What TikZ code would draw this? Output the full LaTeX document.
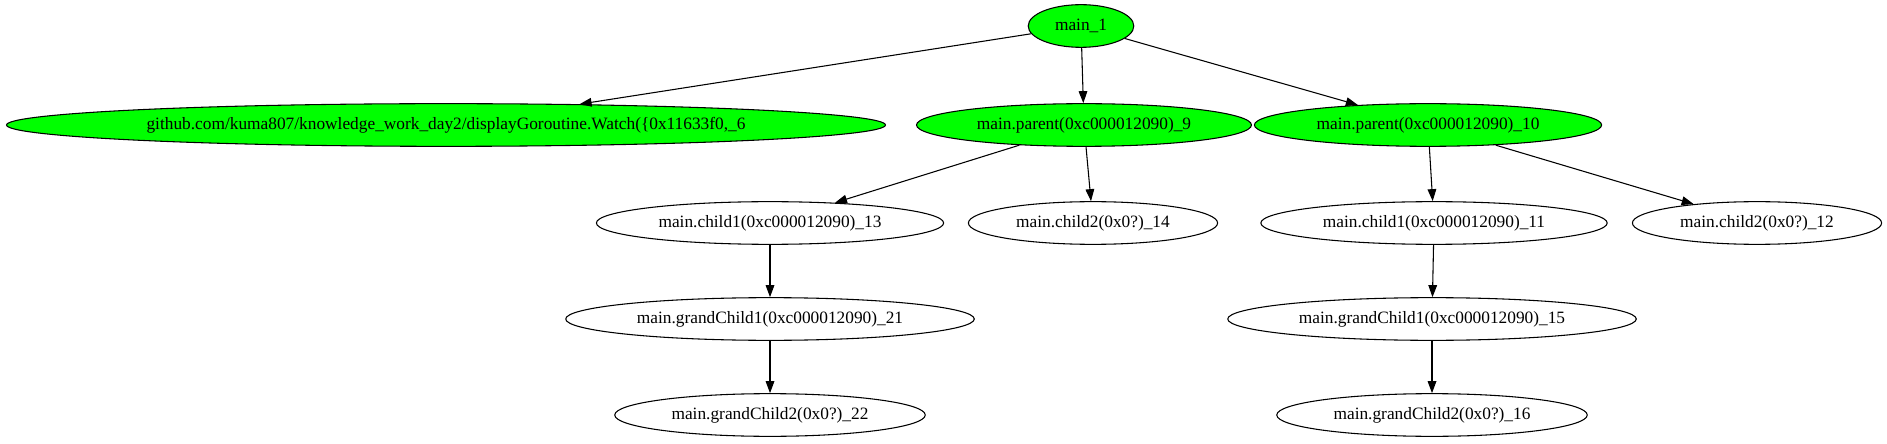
\documentclass[tikz,border=0pt]{standalone}
\usepackage{fontspec}
\setmainfont{Liberation Serif}
\usetikzlibrary{arrows.meta,shapes,positioning}
\definecolor{gvgreen}{RGB}{0,255,0}

\begin{document}
\begin{tikzpicture}[
		x=0.75pt, y=0.75pt,
		gnode/.style={ellipse, draw, line width=0.8pt, inner xsep=8.5pt, inner ysep=2pt, minimum height=32pt, font=\fontsize{13}{15}\selectfont},
		running/.style={gnode, fill=gvgreen},
		->, >={Triangle[length=9pt, width=6.5pt]}, line width=0.8pt
		]

		\useasboundingbox (0,0) rectangle (1887,443);

		% --- racine ---
		\node[running] (M1) at (1081, 417) {main\_1};

		% --- niveau 1 ---
		\node[running] (W6) at (446, 318) {github.com/kuma807/knowledge\_work\_day2/displayGoroutine.Watch(\{0x11633f0,\_6};
		\node[running] (P9) at (1084, 318) {main.parent(0xc000012090)\_9};
		\node[running] (P10) at (1428, 318) {main.parent(0xc000012090)\_10};

		% --- niveau 2 ---
		\node[gnode] (C13) at (770, 220) {main.child1(0xc000012090)\_13};
		\node[gnode] (C14) at (1093, 220) {main.child2(0x0?)\_14};
		\node[gnode] (C11) at (1434, 220) {main.child1(0xc000012090)\_11};
		\node[gnode] (C12) at (1757, 220) {main.child2(0x0?)\_12};

		% --- niveau 3 et 4 ---
		\node[gnode] (G21) at (770, 124) {main.grandChild1(0xc000012090)\_21};
		\node[gnode] (G15) at (1432, 124) {main.grandChild1(0xc000012090)\_15};
		\node[gnode] (G22) at (770, 28) {main.grandChild2(0x0?)\_22};
		\node[gnode] (G16) at (1432, 28) {main.grandChild2(0x0?)\_16};

		\draw (M1) to (W6);
		\draw (M1) to (P9);
		\draw (M1) to (P10);
		\draw (P9) to (C13);
		\draw (P9) to (C14);
		\draw (P10) to (C11);
		\draw (P10) to (C12);
		\draw (C13) to (G21);
		\draw (G21) to (G22);
		\draw (C11) to (G15);
		\draw (G15) to (G16);

	\end{tikzpicture}
\end{document}
